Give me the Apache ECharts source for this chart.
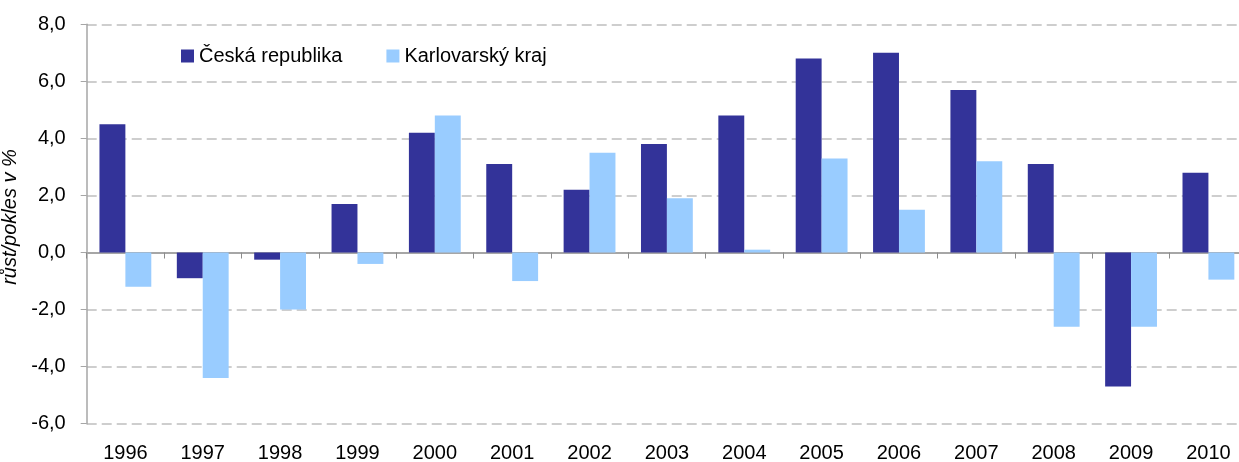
<!DOCTYPE html>
<html>
<head>
<meta charset="utf-8">
<script src="https://cdn.jsdelivr.net/npm/echarts@6/dist/echarts.min.js"></script>
<style>
html,body{margin:0;padding:0;background:#fff;}
#chart{width:1239px;height:462px;}
</style>
</head>
<body>
<div id="chart"></div>
<script>
const categories = ['1996','1997','1998','1999','2000','2001','2002','2003','2004','2005','2006','2007','2008','2009','2010'];
const ceskaRepublika = [4.5, -0.9, -0.25, 1.7, 4.2, 3.1, 2.2, 3.8, 4.8, 6.8, 7.0, 5.7, 3.1, -4.7, 2.8];
const karlovarskyKraj = [-1.2, -4.4, -2.0, -0.4, 4.8, -1.0, 3.5, 1.9, 0.1, 3.3, 1.5, 3.2, -2.6, -2.6, -0.95];
const seriesNames = ['Česká republika', 'Karlovarský kraj'];
const yAxisTitle = 'růst/pokles v %';

const FONT = 'Liberation Sans, Arial, sans-serif';
const chart = echarts.init(document.getElementById('chart'), null, {renderer: 'canvas'});
chart.setOption({
  animation: false,
  backgroundColor: '#ffffff',
  textStyle: {fontFamily: FONT, color: '#000'},
  legend: {
    left: 181, top: 46, padding: 0,
    itemWidth: 13, itemHeight: 13, itemGap: 44,
    icon: 'rect',
    textStyle: {fontFamily: FONT, fontSize: 20, color: '#000'},
    data: seriesNames
  },
  grid: {left: 86.7, top: 24.3, width: 1160.4, height: 399.4, containLabel: false, outerBoundsMode: 'none'},
  xAxis: [
    {
      type: 'category', data: categories, position: 'bottom',
      axisLine: {show: false, onZero: false}, axisTick: {show: false},
      axisLabel: {fontFamily: FONT, fontSize: 20, color: '#000', margin: 20, interval: 0}
    },
    {
      type: 'category', data: categories, position: 'bottom',
      axisLine: {show: true, onZero: true, lineStyle: {color: '#a6a6a6', width: 2}},
      axisTick: {show: true, interval: 0, length: 6, lineStyle: {color: '#8c8c8c', width: 1}},
      axisLabel: {show: false}
    }
  ],
  yAxis: {
    type: 'value', min: -6, max: 8, interval: 2,
    name: yAxisTitle, nameLocation: 'middle', nameRotate: 90, nameGap: 62,
    nameTextStyle: {fontFamily: FONT, fontSize: 20, fontStyle: 'italic', color: '#000', padding: [0, 0, 0, 14]},
    axisLine: {show: true, lineStyle: {color: '#a6a6a6', width: 1.5}},
    axisTick: {show: true, length: 6, lineStyle: {color: '#a6a6a6'}},
    axisLabel: {fontFamily: FONT, fontSize: 20, color: '#000', margin: 21,
      formatter: v => v.toFixed(1).replace('.', ',')},
    splitLine: {show: true, lineStyle: {color: '#bfbfbf', width: 1.5, type: [10, 5]}}
  },
  series: [
    {name: seriesNames[0], type: 'bar', xAxisIndex: 0, data: ceskaRepublika,
     itemStyle: {color: '#333399'}, barGap: '0%', barCategoryGap: '33%'},
    {name: seriesNames[1], type: 'bar', xAxisIndex: 0, data: karlovarskyKraj,
     itemStyle: {color: '#99ccff'}, barGap: '0%', barCategoryGap: '33%'}
  ]
});
</script>
</body>
</html>
